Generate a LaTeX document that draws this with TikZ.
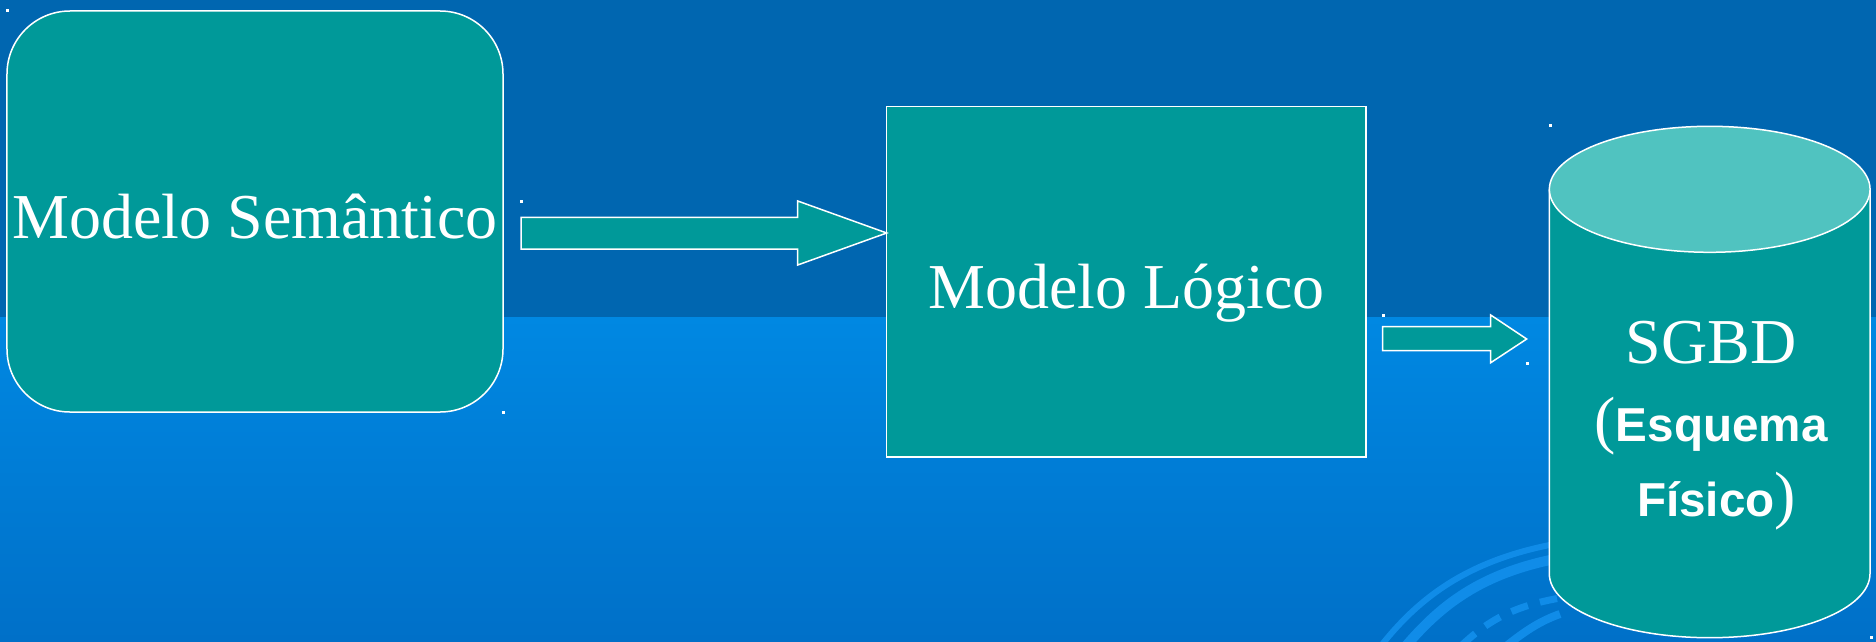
\documentclass[tikz,border=0pt]{standalone}
\usepackage{fontspec}
\setmainfont{Liberation Serif}
\setsansfont{Liberation Sans}
\usepackage{tikz}
\usetikzlibrary{positioning,calc}
\definecolor{topblue}{RGB}{0,102,176}
\definecolor{lowblue}{RGB}{0,136,226}
\definecolor{deepblue}{RGB}{0,112,200}
\definecolor{swirlblue}{RGB}{16,140,232}
\definecolor{boxteal}{RGB}{0,153,153}
\definecolor{lidteal}{RGB}{80,195,192}
\newcommand\serifbig{\fontsize{36.4pt}{44pt}\selectfont\rmfamily}
\newcommand\sansbold{\fontsize{27.1pt}{33pt}\selectfont\sffamily\bfseries}
\tikzset{
  model box/.style={
    draw=white,
    fill=boxteal,
    line width=0.3mm,
    inner sep=0pt
  },
  model text/.style={
    text=white,
    inner sep=0pt,
    font=\serifbig
  },
  block arrow/.style={
    draw=white,
    fill=boxteal,
    line width=0.3mm,
    line join=miter
  },
  swirl/.style={
    draw=swirlblue,
    line width=1.4mm
  }
}

\begin{document}
\begin{tikzpicture}[x=0.2mm,y=0.2mm]
  % background bands
  \fill[topblue] (0,0) rectangle (1876,641);
  \shade[top color=lowblue, bottom color=deepblue] (0,0) rectangle (1876,324);
  \useasboundingbox (0,0) rectangle (1876,641);

  % swirl behind the cylinder
  \begin{scope}
    \clip (0,0) rectangle (1876,324);
    \draw[swirl, line width=1.2mm] (1380,-6) .. controls (1420,45) and (1470,82) .. (1560,98);
    \draw[swirl, line width=2mm] (1405,-6) .. controls (1440,35) and (1480,68) .. (1560,83);
    \draw[swirl, dash pattern=on 3.5mm off 2.5mm] (1462,-4) .. controls (1490,22) and (1515,35) .. (1560,43);
    \draw[swirl, line width=1.6mm] (1505,-6) .. controls (1525,10) and (1540,20) .. (1560,27);
  \end{scope}

  % models
  \node[model box, rounded corners=12.6mm, minimum width=99.2mm, minimum height=80.2mm] (sem) at (255,429.5) {};
  \node[model text, anchor=base] (semtxt) at ([yshift=-5.36mm]sem.center) {Modelo Semântico};
  \node[model box, minimum width=95.9mm, minimum height=70.1mm] (mlog) at (1126.25,359.25) {};
  \node[model text, anchor=base] (mlogtxt) at ([yshift=-5.3mm]mlog.center) {Modelo Lógico};

  % block arrows
  \coordinate (a1tip) at (886.7,408);
  \coordinate (a2tip) at (1526.7,302);
  \draw[block arrow] (521,392) -- (521,423.7) -- (797.7,423.7) -- (797.7,440) -- (a1tip)
    -- (797.7,376) -- (797.7,392) -- cycle;
  \draw[block arrow] (1382.7,290.3) -- (1382.7,314.3) -- (1490.7,314.3) -- (1490.7,326) -- (a2tip)
    -- (1490.7,278.3) -- (1490.7,290.3) -- cycle;

  % database cylinder
  \coordinate (dbtop) at (1709.7,451.7);
  \filldraw[model box] (1549.3,451.7) -- (1549.3,67.3)
    arc[start angle=180, end angle=360, x radius=160.35, y radius=64] -- (1870,451.7);
  \filldraw[model box, fill=lidteal] (dbtop) ellipse [x radius=160.35, y radius=63];
  \node[model text, anchor=base] (dbname) at (1711,278) {SGBD};
  \node[text=white, inner sep=0pt, anchor=base] (dbesq) at (1711,199.3) {{\serifbig(}{\sansbold Esquema}};
  \node[text=white, inner sep=0pt, anchor=base] (dbfis) at (1716.5,124.3) {{\sansbold Físico}{\serifbig)}};

  % selection marks
  \foreach \mx/\my in {7/630, 503/229, 521/440, 1383/326, 1527/278, 1550/516, 1871/4}
    \fill[white] (\mx-1.5,\my-1.5) rectangle ++(3,3);
\end{tikzpicture}
\end{document}
